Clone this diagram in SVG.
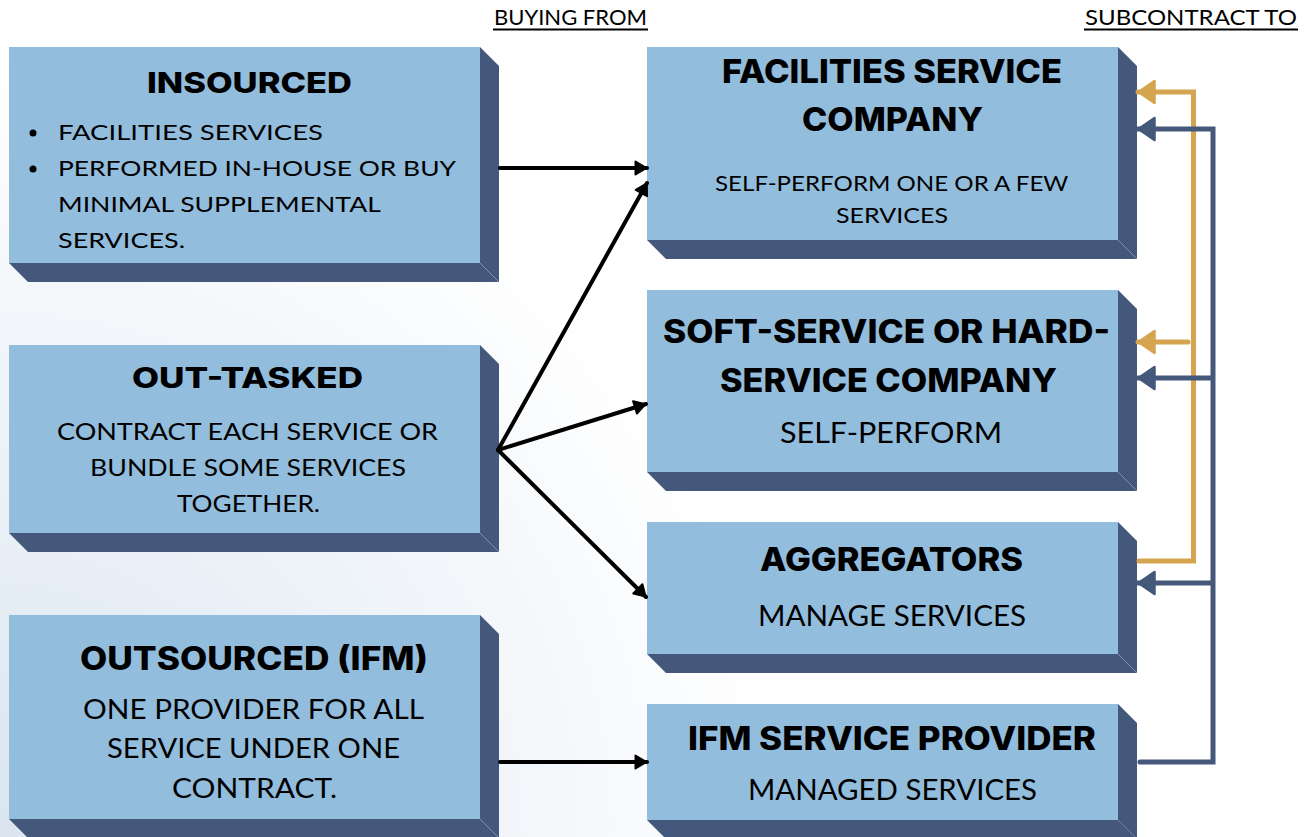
<svg xmlns="http://www.w3.org/2000/svg" width="1307" height="837" viewBox="0 0 1307 837">
  <defs>
    <radialGradient id="bg" cx="0" cy="837" r="1000" gradientUnits="userSpaceOnUse">
      <stop offset="0" stop-color="#dae5f0"/>
      <stop offset="0.78" stop-color="#ffffff"/>
    </radialGradient>
    <marker id="ah-black" viewBox="0 0 14 16" refX="13" refY="8" markerWidth="14" markerHeight="16" markerUnits="userSpaceOnUse" orient="auto">
      <path d="M1.5,1.5 L12.5,8 L1.5,14.5 Z" fill="#000" stroke="#000" stroke-width="2" stroke-linejoin="round"/>
    </marker>
    <marker id="ah-gold" viewBox="0 0 20 26" refX="18.5" refY="13" markerWidth="20" markerHeight="26" markerUnits="userSpaceOnUse" orient="auto">
      <path d="M2,2 L18,13 L2,24 Z" fill="#d5a44f" stroke="#d5a44f" stroke-width="2.5" stroke-linejoin="round"/>
    </marker>
    <marker id="ah-blue" viewBox="0 0 20 26" refX="18.5" refY="13" markerWidth="20" markerHeight="26" markerUnits="userSpaceOnUse" orient="auto">
      <path d="M2,2 L18,13 L2,24 Z" fill="#44587b" stroke="#44587b" stroke-width="2.5" stroke-linejoin="round"/>
    </marker>
  </defs>
  <style>
    .face { fill: #93bddd; }
    .side { fill: #44587b; }
    .edge { stroke: #7d8fae; stroke-width: 1; fill: none; }
    .title { font-family: Inter, "Open Sans", sans-serif; font-weight: 800; fill: #000; }
    .body { font-family: Lato, "Liberation Sans", sans-serif; font-weight: 400; fill: #000; }
    .head { font-family: Lato, "Liberation Sans", sans-serif; font-weight: 400; fill: #000; font-size: 21px; }
    .link { fill: none; stroke: #000; stroke-width: 4; stroke-linecap: round; }
    .gold { fill: none; stroke: #d5a44f; stroke-width: 5; stroke-linecap: round; stroke-linejoin: miter; }
    .blue { fill: none; stroke: #44587b; stroke-width: 5; stroke-linecap: round; stroke-linejoin: miter; }
  </style>

  <rect width="1307" height="837" fill="url(#bg)"/>

  <!-- column headings -->
  <g id="headings">
    <text class="head" x="494" y="25" textLength="153" lengthAdjust="spacingAndGlyphs">BUYING FROM</text>
    <line x1="493" y1="29.5" x2="648" y2="29.5" stroke="#000" stroke-width="2"/>
    <text class="head" x="1085" y="25" textLength="212" lengthAdjust="spacingAndGlyphs">SUBCONTRACT TO</text>
    <line x1="1084" y1="29.5" x2="1298" y2="29.5" stroke="#000" stroke-width="2"/>
  </g>

  <!-- left column -->
  <g id="insourced">
    <polygon class="side" points="480,47 499,66 499,282 480,263"/>
    <polygon class="side" points="9,263 480,263 499,282 28,282"/>
    <line class="edge" x1="480" y1="263" x2="499" y2="282"/>
    <rect class="face" x="9" y="47" width="471" height="216"/>
    <text class="title" x="147" y="93" font-size="29" textLength="205" lengthAdjust="spacingAndGlyphs">INSOURCED</text>
    <circle cx="33" cy="133" r="3.5" fill="#000"/>
    <circle cx="33" cy="169" r="3.5" fill="#000"/>
    <text class="body" font-size="21">
      <tspan x="58" y="140" textLength="265" lengthAdjust="spacingAndGlyphs">FACILITIES SERVICES</tspan>
      <tspan x="58" y="176" textLength="397" lengthAdjust="spacingAndGlyphs">PERFORMED IN-HOUSE OR BUY</tspan>
      <tspan x="58" y="212" textLength="322" lengthAdjust="spacingAndGlyphs">MINIMAL SUPPLEMENTAL</tspan>
      <tspan x="58" y="248" textLength="127" lengthAdjust="spacingAndGlyphs">SERVICES.</tspan>
    </text>
  </g>

  <g id="out-tasked">
    <polygon class="side" points="480,345 499,364 499,552 480,533"/>
    <polygon class="side" points="9,533 480,533 499,552 28,552"/>
    <line class="edge" x1="480" y1="533" x2="499" y2="552"/>
    <rect class="face" x="9" y="345" width="471" height="188"/>
    <text class="title" x="132" y="388" font-size="28" textLength="231" lengthAdjust="spacingAndGlyphs">OUT-TASKED</text>
    <text class="body" font-size="24">
      <tspan x="57" y="440" textLength="381" lengthAdjust="spacingAndGlyphs">CONTRACT EACH SERVICE OR</tspan>
      <tspan x="90" y="476" textLength="316" lengthAdjust="spacingAndGlyphs">BUNDLE SOME SERVICES</tspan>
      <tspan x="177" y="512" textLength="143" lengthAdjust="spacingAndGlyphs">TOGETHER.</tspan>
    </text>
  </g>

  <g id="outsourced">
    <polygon class="side" points="480,615 499,634 499,838 480,819"/>
    <polygon class="side" points="9,819 480,819 499,838 28,838"/>
    <line class="edge" x1="480" y1="819" x2="499" y2="838"/>
    <rect class="face" x="9" y="615" width="471" height="204"/>
    <text class="title" x="80" y="670" font-size="32" textLength="348" lengthAdjust="spacingAndGlyphs">OUTSOURCED (IFM)</text>
    <text class="body" font-size="26">
      <tspan x="83" y="719" textLength="340" lengthAdjust="spacingAndGlyphs">ONE PROVIDER FOR ALL</tspan>
      <tspan x="107" y="758" textLength="293" lengthAdjust="spacingAndGlyphs">SERVICE UNDER ONE</tspan>
      <tspan x="172" y="798" textLength="165" lengthAdjust="spacingAndGlyphs">CONTRACT.</tspan>
    </text>
  </g>

  <!-- right column -->
  <g id="facilities-service-company">
    <polygon class="side" points="1118,47 1137,66 1137,259 1118,240"/>
    <polygon class="side" points="647,240 1118,240 1137,259 666,259"/>
    <line class="edge" x1="1118" y1="240" x2="1137" y2="259"/>
    <rect class="face" x="647" y="47" width="471" height="193"/>
    <text class="title" font-size="33">
      <tspan x="722" y="83" textLength="340" lengthAdjust="spacingAndGlyphs">FACILITIES SERVICE</tspan>
      <tspan x="802" y="131" textLength="181" lengthAdjust="spacingAndGlyphs">COMPANY</tspan>
    </text>
    <text class="body" font-size="22">
      <tspan x="715" y="191" textLength="353" lengthAdjust="spacingAndGlyphs">SELF-PERFORM ONE OR A FEW</tspan>
      <tspan x="836" y="223" textLength="112" lengthAdjust="spacingAndGlyphs">SERVICES</tspan>
    </text>
  </g>

  <g id="soft-hard-service-company">
    <polygon class="side" points="1118,290 1137,309 1137,491 1118,472"/>
    <polygon class="side" points="647,472 1118,472 1137,491 666,491"/>
    <line class="edge" x1="1118" y1="472" x2="1137" y2="491"/>
    <rect class="face" x="647" y="290" width="471" height="182"/>
    <text class="title" font-size="32">
      <tspan x="663" y="343" textLength="447" lengthAdjust="spacingAndGlyphs">SOFT-SERVICE OR HARD-</tspan>
      <tspan x="720" y="392" textLength="337" lengthAdjust="spacingAndGlyphs">SERVICE COMPANY</tspan>
    </text>
    <text class="body" x="780" y="443" font-size="28" textLength="222" lengthAdjust="spacingAndGlyphs">SELF-PERFORM</text>
  </g>

  <g id="aggregators">
    <polygon class="side" points="1118,522 1137,541 1137,673 1118,654"/>
    <polygon class="side" points="647,654 1118,654 1137,673 666,673"/>
    <line class="edge" x1="1118" y1="654" x2="1137" y2="673"/>
    <rect class="face" x="647" y="522" width="471" height="132"/>
    <text class="title" x="760" y="571" font-size="33" textLength="263" lengthAdjust="spacingAndGlyphs">AGGREGATORS</text>
    <text class="body" x="758" y="626" font-size="28" textLength="268" lengthAdjust="spacingAndGlyphs">MANAGE SERVICES</text>
  </g>

  <g id="ifm-service-provider">
    <polygon class="side" points="1118,704 1137,723 1137,839 1118,820"/>
    <polygon class="side" points="647,820 1118,820 1137,839 666,839"/>
    <rect class="face" x="647" y="704" width="471" height="116"/>
    <text class="title" x="688" y="750" font-size="32" textLength="408" lengthAdjust="spacingAndGlyphs">IFM SERVICE PROVIDER</text>
    <text class="body" x="748" y="800" font-size="29" textLength="289" lengthAdjust="spacingAndGlyphs">MANAGED SERVICES</text>
  </g>

  <!-- connectors -->
  <g id="connectors">
    <line class="link" x1="500" y1="168" x2="647" y2="168" marker-end="url(#ah-black)"/>
    <line class="link" x1="498" y1="450" x2="647" y2="183" marker-end="url(#ah-black)"/>
    <line class="link" x1="498" y1="450" x2="646" y2="404" marker-end="url(#ah-black)"/>
    <line class="link" x1="498" y1="450" x2="646" y2="597" marker-end="url(#ah-black)"/>
    <line class="link" x1="500" y1="762" x2="647" y2="762" marker-end="url(#ah-black)"/>

    <path class="gold" d="M1139,561 H1193.5 V92 H1138" marker-end="url(#ah-gold)"/>
    <path class="gold" d="M1188,342 H1138" marker-end="url(#ah-gold)"/>

    <path class="blue" d="M1140,762 H1213 V129 H1138" marker-end="url(#ah-blue)"/>
    <path class="blue" d="M1210,378 H1138" marker-end="url(#ah-blue)"/>
    <path class="blue" d="M1210,583 H1138" marker-end="url(#ah-blue)"/>
  </g>
</svg>
